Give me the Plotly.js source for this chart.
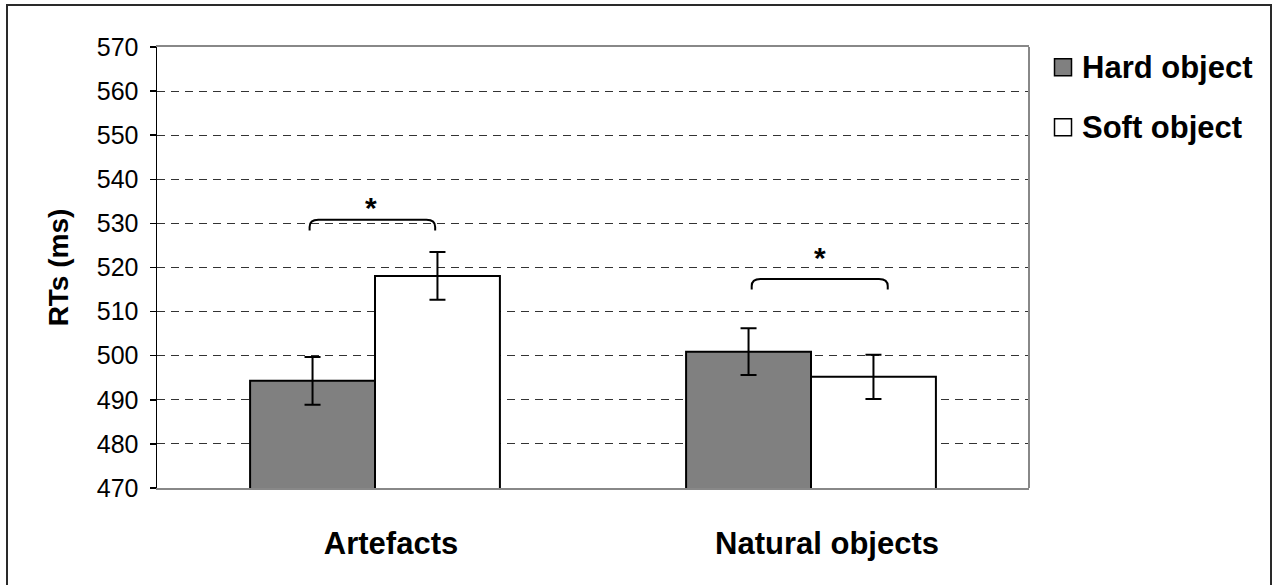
<!DOCTYPE html>
<html>
<head>
<meta charset="utf-8">
<script src="https://cdn.plot.ly/plotly-3.0.1.min.js"></script>
<style>
html,body{margin:0;padding:0;background:#fff;overflow:hidden;}
#wrap{position:relative;width:1279px;height:585px;}
#chart{width:1279px;height:585px;}
#frame{position:absolute;left:6px;top:4px;width:1262px;height:700px;border:2px solid #2a2a2a;pointer-events:none;}
</style>
</head>
<body>
<div id="wrap"><div id="chart"></div><div id="frame"></div></div>
<script>
// Data
const categories = ['Artefacts', 'Natural objects'];
const seriesNames = ['Hard object', 'Soft object'];
const hardValues = [494.3, 500.9];
const hardErrors = [5.4, 5.3];
const softValues = [518.1, 495.2];
const softErrors = [5.4, 5.0];
const yTicks = [470, 480, 490, 500, 510, 520, 530, 540, 550, 560, 570];

// Significance brackets (category index units / data units)
const bracketX0 = [-0.15, -0.136];
const bracketX1 = [0.138, 0.176];
const bracketTop = [530.8, 517.4];
const starX = [-0.01, 0.02];
const starY = [533.7, 522.3];

const font = "'Liberation Sans', Arial, sans-serif";
const fills = ['#808080', '#ffffff'];

const traces = [
  {
    type: 'bar', name: seriesNames[0], x: categories, y: hardValues,
    marker: {color: fills[0], line: {color: '#000', width: 2}},
    error_y: {type: 'data', array: hardErrors, visible: true, color: '#000', thickness: 2, width: 8}
  },
  {
    type: 'bar', name: seriesNames[1], x: categories, y: softValues,
    marker: {color: fills[1], line: {color: '#000', width: 2}},
    error_y: {type: 'data', array: softErrors, visible: true, color: '#000', thickness: 2, width: 8}
  }
];

const shapes = [];
const annotations = [];
for (let i = 0; i < bracketX0.length; i++) {
  const x0 = i + bracketX0[i], x1 = i + bracketX1[i], yt = bracketTop[i];
  const rx = 0.02, ry = 1.6, ye = yt - 2.4;
  shapes.push({
    type: 'path', xref: 'x2', yref: 'y',
    path: `M ${x0},${ye} L ${x0},${yt - ry} Q ${x0},${yt} ${x0 + rx},${yt} L ${x1 - rx},${yt} Q ${x1},${yt} ${x1},${yt - ry} L ${x1},${ye}`,
    line: {color: '#000', width: 2}
  });
  annotations.push({
    xref: 'x2', yref: 'y', x: i + starX[i], y: starY[i], text: '<b>*</b>', showarrow: false,
    font: {family: font, size: 30, color: '#000'}, xanchor: 'center', yanchor: 'middle'
  });
}
// right border of plot area (grey)
shapes.push({type: 'line', xref: 'paper', yref: 'paper', x0: 1, x1: 1, y0: 0, y1: 1, line: {color: '#888', width: 2}});

// custom legend (icon + bold label)
const legendX = 1.039;   // paper x of icon centre
const legendY = [0.954, 0.818]; // paper y of entries
seriesNames.forEach((nm, i) => {
  shapes.push({
    type: 'rect', xref: 'paper', yref: 'paper', xsizemode: 'pixel', ysizemode: 'pixel',
    xanchor: legendX, yanchor: legendY[i], x0: -8.5, x1: 8.5, y0: -8.5, y1: 8.5,
    fillcolor: fills[i], line: {color: '#000', width: 1.5}
  });
  annotations.push({
    xref: 'paper', yref: 'paper', x: legendX, y: legendY[i], xshift: 17, text: nm, showarrow: false,
    xanchor: 'left', yanchor: 'middle',
    font: {family: font, size: 31, color: '#000', weight: 'bold'}
  });
});

const layout = {
  width: 1279, height: 585,
  margin: {l: 157, r: 250, t: 47, b: 97},
  paper_bgcolor: '#fff', plot_bgcolor: '#fff',
  barmode: 'group', bargap: 0.427, bargroupgap: 0,
  showlegend: false,
  xaxis: {
    type: 'category', showgrid: false, showline: true, linecolor: '#888', linewidth: 2, mirror: true,
    ticks: '', tickfont: {family: font, size: 31, color: '#000', weight: 'bold'},
    ticklabelstandoff: 27, ticklabelshift: 16, zeroline: false
  },
  xaxis2: {overlaying: 'x', range: [-0.5, 1.5], visible: false, type: 'linear'},
  yaxis: {
    range: [470, 570], tickvals: yTicks, ticktext: yTicks.map(String),
    showline: true, linecolor: '#000', linewidth: 1.5,
    ticks: 'outside', ticklen: 6, tickcolor: '#000', tickwidth: 1.5,
    tickfont: {family: font, size: 25, color: '#000'}, ticklabelstandoff: 6,
    showgrid: true, gridcolor: '#333', gridwidth: 1, griddash: '8px,6px',
    zeroline: false,
    title: {text: 'RTs (ms)', font: {family: font, size: 28, color: '#000', weight: 'bold'}, standoff: 20}
  },
  shapes: shapes,
  annotations: annotations
};

Plotly.newPlot('chart', traces, layout, {displayModeBar: false, staticPlot: true});
</script>
</body>
</html>
